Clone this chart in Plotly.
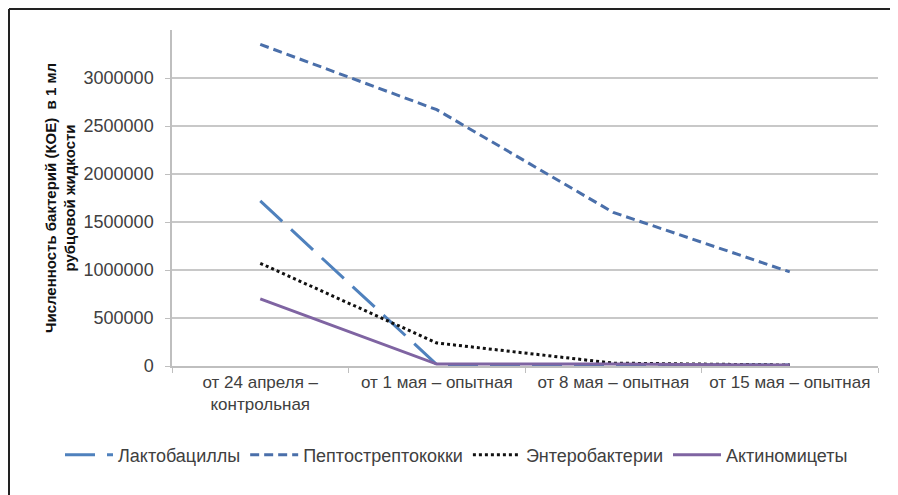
import plotly.graph_objects as go

categories = ["от 24 апреля –<br>контрольная", "от 1 мая – опытная", "от 8 мая – опытная", "от 15 мая – опытная"]
lacto = [1720000, 15000, 10000, 10000]
pepto = [3350000, 2670000, 1600000, 980000]
entero = [1070000, 240000, 30000, 10000]
actino = [700000, 20000, 20000, 10000]
yticks = [0, 500000, 1000000, 1500000, 2000000, 2500000, 3000000]

font = "Liberation Sans"
OFF = 8  # page body margin
FW, FH = 898 - OFF, 495 - OFF
L, R, T, B = 172 - OFF, 878 - OFF, 30 - OFF, 366 - OFF
W, H = R - L, B - T

def px(x):
    return (x - OFF - L) / W

def py(y):
    return (B - (y - OFF)) / H

fig = go.Figure()
fig.add_trace(go.Scatter(x=categories, y=lacto, name="Лактобациллы", mode="lines",
                         line=dict(color="#4F81BD", width=3, dash="30px,12px")))
fig.add_trace(go.Scatter(x=categories, y=pepto, name="Пептострептококки", mode="lines",
                         line=dict(color="#4A6FAA", width=3, dash="9px,5px")))
fig.add_trace(go.Scatter(x=categories, y=entero, name="Энтеробактерии", mode="lines",
                         line=dict(color="#111111", width=3, dash="dot")))
fig.add_trace(go.Scatter(x=categories, y=actino, name="Актиномицеты", mode="lines",
                         line=dict(color="#7F64A2", width=3)))

fig.update_layout(
    width=FW, height=FH,
    margin=dict(l=L, r=FW - R, t=T, b=FH - B),
    paper_bgcolor="white", plot_bgcolor="white",
    font=dict(family=font, size=17, color="#404040"),
    showlegend=True,
    legend=dict(orientation="h", x=px(60), xanchor="left", y=py(455), yanchor="middle",
                font=dict(size=18, color="#404040"), itemwidth=48, traceorder="normal"),
    xaxis=dict(type="category", range=[-0.5, 3.5], tickson="boundaries", ticks="outside", ticklen=5,
               tickcolor="#BFBFBF", showline=True, linecolor="#BFBFBF", linewidth=1.5,
               showgrid=False, automargin=False, tickfont=dict(size=17, color="#404040")),
    yaxis=dict(range=[0, 3500000], tickvals=yticks, ticktext=[str(v) for v in yticks],
               showgrid=True, gridcolor="#C8C8C8", gridwidth=1.5, showline=True,
               linecolor="#BFBFBF", linewidth=1.5, ticks="outside", ticklen=5, tickcolor="#BFBFBF",
               ticklabelstandoff=8,
               zeroline=False, automargin=False, tickfont=dict(size=18, color="#404040"),
               title=dict(text="<b>Численность бактерий (КОЕ)  в 1 мл<br>рубцовой жидкости</b>",
                          font=dict(size=15, color="#111111"), standoff=4)),
)
fig.add_shape(type="line", xref="paper", yref="paper",
              x0=px(9), x1=px(898), y0=py(9), y1=py(9),
              line=dict(color="#222222", width=2))
fig.add_shape(type="line", xref="paper", yref="paper",
              x0=px(9), x1=px(9), y0=py(9), y1=py(495),
              line=dict(color="#222222", width=2))
fig.write_html("out.html")
